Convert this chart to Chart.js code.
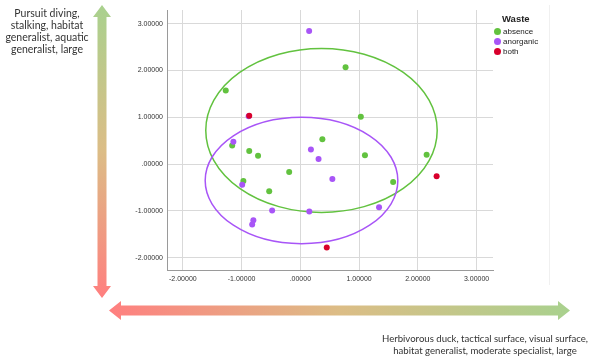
<!DOCTYPE html>
<html>
<head>
<meta charset="utf-8">
<script src="https://cdn.jsdelivr.net/npm/chart.js@4"></script>
<style>
  body { margin: 0; background: #fff; }
  #wrap { position: relative; width: 593px; height: 358px; }
  .note { position: absolute; font-family: Lato, "Open Sans", sans-serif; color: #333; text-align: center; white-space: nowrap; }
  #legend { position: absolute; left: 494px; top: 13px; font-family: "Liberation Sans", Arial, sans-serif; color: #222; }
  #legend .title { font-weight: bold; font-size: 9.5px; margin-left: 8px; margin-bottom: 3px; }
  #legend .item { font-size: 8px; height: 10px; line-height: 10px; }
  #legend .dot { display: inline-block; width: 7px; height: 7px; border-radius: 50%; vertical-align: -1px; margin-right: 2px; }
</style>
</head>
<body>
<div id="wrap">
  <canvas id="scatter" width="593" height="358"></canvas>
  <div class="note" style="left:0px; top:7px; width:94px; font-size:10.5px; line-height:12px;">Pursuit diving,<br>stalking, habitat<br>generalist, aquatic<br>generalist, large</div>
  <div class="note" style="left:375px; top:333px; width:220px; font-size:9.6px; line-height:11.7px;">Herbivorous duck, tactical surface, visual surface,<br>habitat generalist, moderate specialist, large</div>
  <div id="legend"></div>
</div>
<script>
// Data
const seriesNames = ["absence", "anorganic", "both"];
const seriesColors = ["#62c23f", "#a855f7", "#d8002c"];

const absenceX = [0.77, -1.27, 1.03, 0.375, -1.16, -0.87, -0.72, -0.19, 1.10, 2.15, 1.58, -0.97, -0.53];
const absenceY = [2.07, 1.57, 1.01, 0.53, 0.40, 0.28, 0.18, -0.17, 0.19, 0.20, -0.38, -0.36, -0.58];

const anorganicX = [0.15, -0.88, -1.14, 0.18, 0.31, 0.545, -0.99, -0.48, 0.153, 1.34, -0.80, -0.82];
const anorganicY = [2.84, 1.02, 0.48, 0.31, 0.11, -0.32, -0.44, -0.99, -1.01, -0.92, -1.20, -1.29];

const bothX = [-0.87, 2.32, 0.45];
const bothY = [1.03, -0.26, -1.78];

// ellipse per group: centre x, centre y, radius x, radius y
const absenceEllipse = [0.36, 0.72, 1.97, 1.75];
const anorganicEllipse = [0.02, -0.35, 1.64, 1.35];

const xTicks = [-2, -1, 0, 1, 2, 3];
const xTickLabels = ["-2.00000", "-1.00000", ".00000", "1.00000", "2.00000", "3.00000"];
const yTicks = [-2, -1, 0, 1, 2, 3];
const yTickLabels = ["-2.00000", "-1.00000", ".00000", "1.00000", "2.00000", "3.00000"];

function toPoints(xs, ys) {
  return xs.map((x, i) => ({ x: x, y: ys[i] }));
}

// Legend
const legend = document.getElementById("legend");
let html = '<div class="title">Waste</div>';
seriesNames.forEach((name, i) => {
  html += '<div class="item"><span class="dot" style="background:' + seriesColors[i] + '"></span>' + name + '</div>';
});
legend.innerHTML = html;

// Ellipses drawn under the points
const ellipsePlugin = {
  id: "ellipses",
  beforeDatasetsDraw(chart) {
    const ctx = chart.ctx;
    const xs = chart.scales.x, ys = chart.scales.y;
    [[absenceEllipse, seriesColors[0]], [anorganicEllipse, seriesColors[1]]].forEach(([e, color]) => {
      const cx = xs.getPixelForValue(e[0]);
      const cy = ys.getPixelForValue(e[1]);
      const rx = Math.abs(xs.getPixelForValue(e[0] + e[2]) - cx);
      const ry = Math.abs(ys.getPixelForValue(e[1] + e[3]) - cy);
      ctx.save();
      ctx.strokeStyle = color;
      ctx.lineWidth = 1.5;
      ctx.beginPath();
      ctx.ellipse(cx, cy, rx, ry, 0, 0, Math.PI * 2);
      ctx.stroke();
      ctx.restore();
    });
  }
};

// Gradient arrows along the two axes
function arrow(ctx, x1, y1, x2, y2, shaft, headW, headL, grad) {
  const dx = x2 - x1, dy = y2 - y1;
  const len = Math.hypot(dx, dy);
  const ux = dx / len, uy = dy / len, nx = -uy, ny = ux;
  const pts = [
    [0, 0], [headL, headW], [headL, shaft], [len - headL, shaft], [len - headL, headW],
    [len, 0], [len - headL, -headW], [len - headL, -shaft], [headL, -shaft], [headL, -headW]
  ];
  ctx.beginPath();
  pts.forEach(([a, b], i) => {
    const px = x1 + ux * a + nx * b, py = y1 + uy * a + ny * b;
    if (i === 0) ctx.moveTo(px, py); else ctx.lineTo(px, py);
  });
  ctx.closePath();
  ctx.fillStyle = grad;
  ctx.fill();
}

const arrowPlugin = {
  id: "arrows",
  afterDraw(chart) {
    const ctx = chart.ctx;
    ctx.save();
    let g = ctx.createLinearGradient(0, 5, 0, 298);
    g.addColorStop(0, "#a9d18e");
    g.addColorStop(0.5, "#dcbd86");
    g.addColorStop(1, "#ff7f7f");
    arrow(ctx, 102, 5, 102, 298, 4.5, 9, 12, g);
    g = ctx.createLinearGradient(109, 0, 570, 0);
    g.addColorStop(0, "#ff7f7f");
    g.addColorStop(0.5, "#dcbd86");
    g.addColorStop(1, "#a9d18e");
    arrow(ctx, 109, 310.5, 570, 310.5, 5, 9.5, 12, g);
    ctx.strokeStyle = "#f0f0f0";
    ctx.lineWidth = 1;
    ctx.beginPath();
    ctx.moveTo(549.5, 5);
    ctx.lineTo(549.5, 285);
    ctx.stroke();
    ctx.restore();
  }
};

new Chart(document.getElementById("scatter"), {
  type: "scatter",
  data: {
    datasets: [
      { label: seriesNames[0], data: toPoints(absenceX, absenceY), backgroundColor: seriesColors[0], order: 3 },
      { label: seriesNames[1], data: toPoints(anorganicX, anorganicY), backgroundColor: seriesColors[1], order: 2 },
      { label: seriesNames[2], data: toPoints(bothX, bothY), backgroundColor: seriesColors[2], order: 1 }
    ]
  },
  options: {
    responsive: false,
    animation: false,
    devicePixelRatio: 1,
    layout: { padding: { left: 100, right: 100, top: 10, bottom: 68 } },
    elements: { point: { radius: 3, borderWidth: 0, hoverRadius: 3 } },
    plugins: { legend: { display: false }, tooltip: { enabled: false } },
    scales: {
      x: {
        type: "linear",
        min: -2.27,
        max: 3.28,
        afterBuildTicks: axis => { axis.ticks = xTicks.map(v => ({ value: v })); },
        afterFit: axis => { axis.height = 20; },
        ticks: {
          callback: (v, i) => xTickLabels[i],
          font: { family: "Liberation Sans", size: 7 },
          color: "#333",
          padding: 5,
          maxRotation: 0
        },
        grid: { color: "#d9d9d9", lineWidth: 1, drawTicks: false },
        border: { color: "#9a9a9a", width: 1 }
      },
      y: {
        type: "linear",
        min: -2.26,
        max: 3.29,
        afterBuildTicks: axis => { axis.ticks = yTicks.map(v => ({ value: v })); },
        afterFit: axis => { axis.width = 67; },
        ticks: {
          callback: (v, i) => yTickLabels[i],
          font: { family: "Liberation Sans", size: 7 },
          color: "#333",
          padding: 4
        },
        grid: { color: "#d9d9d9", lineWidth: 1, drawTicks: false },
        border: { color: "#9a9a9a", width: 1 }
      }
    }
  },
  plugins: [ellipsePlugin, arrowPlugin]
});
</script>
</body>
</html>
